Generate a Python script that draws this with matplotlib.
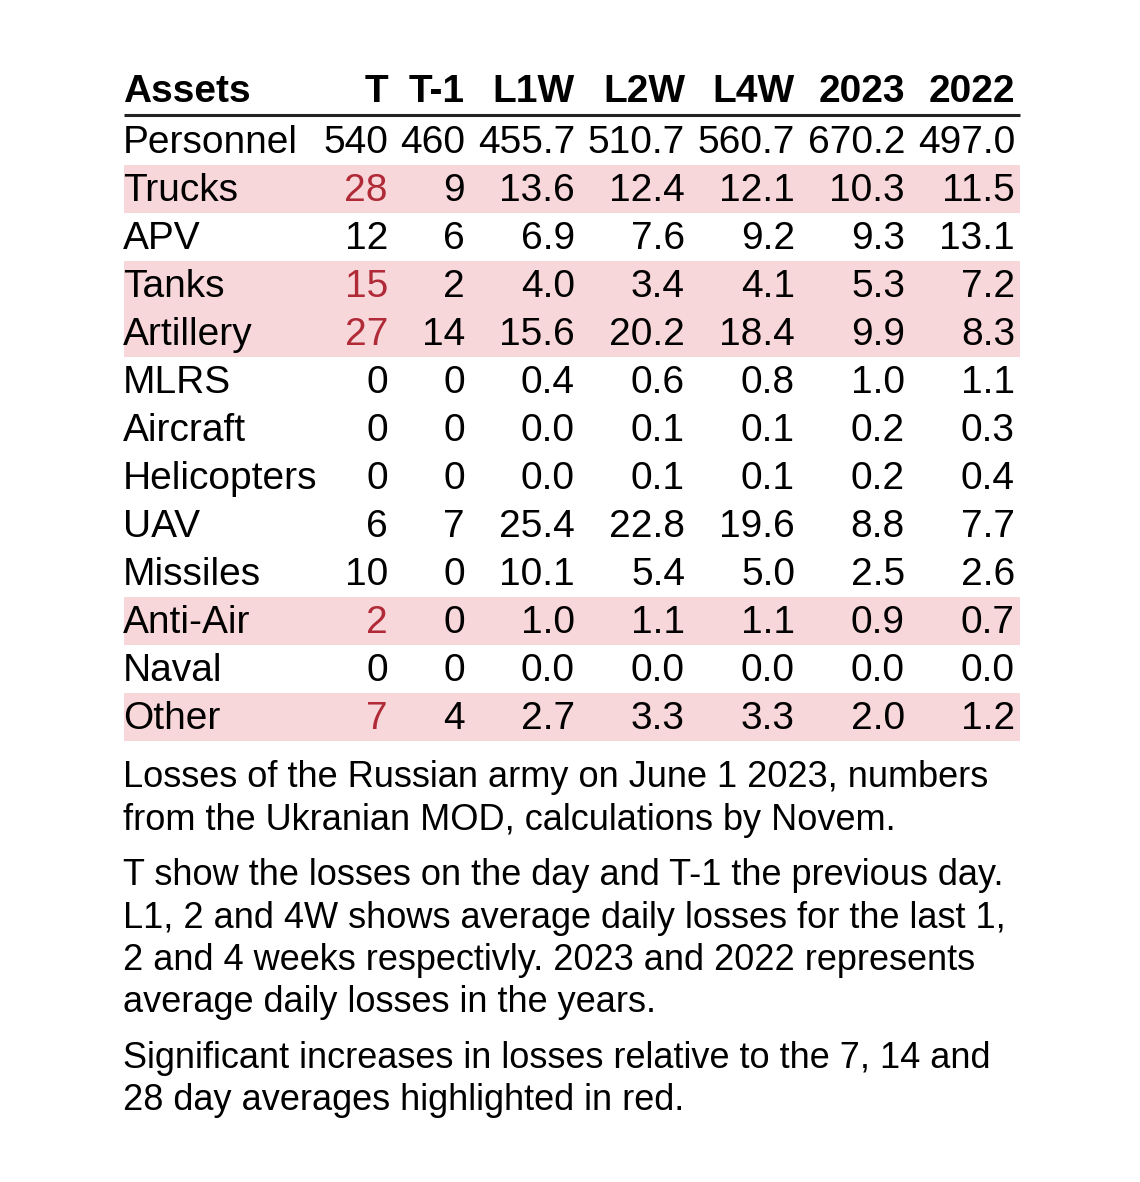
import matplotlib
matplotlib.use("Agg")
import matplotlib.pyplot as plt
from matplotlib.patches import Rectangle

plt.rcParams["font.family"] = ["Liberation Sans", "DejaVu Sans"]

# table data
columns = ["T", "T-1", "L1W", "L2W", "L4W", "2023", "2022"]
assets = ["Personnel", "Trucks", "APV", "Tanks", "Artillery", "MLRS", "Aircraft",
          "Helicopters", "UAV", "Missiles", "Anti-Air", "Naval", "Other"]
t_vals = [540, 28, 12, 15, 27, 0, 0, 0, 6, 10, 2, 0, 7]
t1_vals = [460, 9, 6, 2, 14, 0, 0, 0, 7, 0, 0, 0, 4]
l1w = [455.7, 13.6, 6.9, 4.0, 15.6, 0.4, 0.0, 0.0, 25.4, 10.1, 1.0, 0.0, 2.7]
l2w = [510.7, 12.4, 7.6, 3.4, 20.2, 0.6, 0.1, 0.1, 22.8, 5.4, 1.1, 0.0, 3.3]
l4w = [560.7, 12.1, 9.2, 4.1, 18.4, 0.8, 0.1, 0.1, 19.6, 5.0, 1.1, 0.0, 3.3]
y2023 = [670.2, 10.3, 9.3, 5.3, 9.9, 1.0, 0.2, 0.2, 8.8, 2.5, 0.9, 0.0, 2.0]
y2022 = [497.0, 11.5, 13.1, 7.2, 8.3, 1.1, 0.3, 0.4, 7.7, 2.6, 0.7, 0.0, 1.2]
highlighted = ["Trucks", "Tanks", "Artillery", "Anti-Air", "Other"]

notes = [
    ["Losses of the Russian army on June 1 2023, numbers",
     "from the Ukranian MOD, calculations by Novem."],
    ["T show the losses on the day and T-1 the previous day.",
     "L1, 2 and 4W shows average daily losses for the last 1,",
     "2 and 4 weeks respectivly. 2023 and 2022 represents",
     "average daily losses in the years."],
    ["Significant increases in losses relative to the 7, 14 and",
     "28 day averages highlighted in red."],
]

HL_BG = "#f8d7da"
HL_FG = "#b02a37"

W, H = 1140, 1182
fig = plt.figure(figsize=(W / 100, H / 100), dpi=100)
ax = fig.add_axes([0, 0, 1, 1])
ax.set_xlim(0, W)
ax.set_ylim(H, 0)
ax.axis("off")

left, right = 124, 1020
col_right = [388, 465, 575, 685, 795, 905, 1015]
row_h = 48
top = 117
fs = 28

# header
ax.text(left - 1, 102, "Assets", fontsize=fs, fontweight="bold", va="baseline", ha="left")
for c, x in zip(columns, col_right):
    ax.text(x, 102, c, fontsize=fs, fontweight="bold", va="baseline", ha="right")
ax.plot([left, right], [115, 115], color="#222222", lw=2.2, solid_capstyle="butt")

cols = [t_vals, t1_vals, l1w, l2w, l4w, y2023, y2022]
for i, name in enumerate(assets):
    y0 = top + row_h * i
    hl = name in highlighted
    if hl:
        ax.add_patch(Rectangle((left, y0), right - left, row_h, color=HL_BG, lw=0))
    base = y0 + 36
    ax.text(left - 1, base, name, fontsize=fs, va="baseline", ha="left")
    for j, (vals, x) in enumerate(zip(cols, col_right)):
        v = vals[i]
        s = f"{v:d}" if j < 2 else f"{v:.1f}"
        color = HL_FG if (hl and j == 0) else "black"
        ax.text(x, base, s, fontsize=fs, va="baseline", ha="right", color=color)

# footnotes
y = 787
for p, para in enumerate(notes):
    for k, line in enumerate(para):
        ax.text(left - 1, y, line, fontsize=26, va="baseline", ha="left")
        y += 42.5
    y += 13

fig.savefig("out.png", dpi=100, facecolor="white")
